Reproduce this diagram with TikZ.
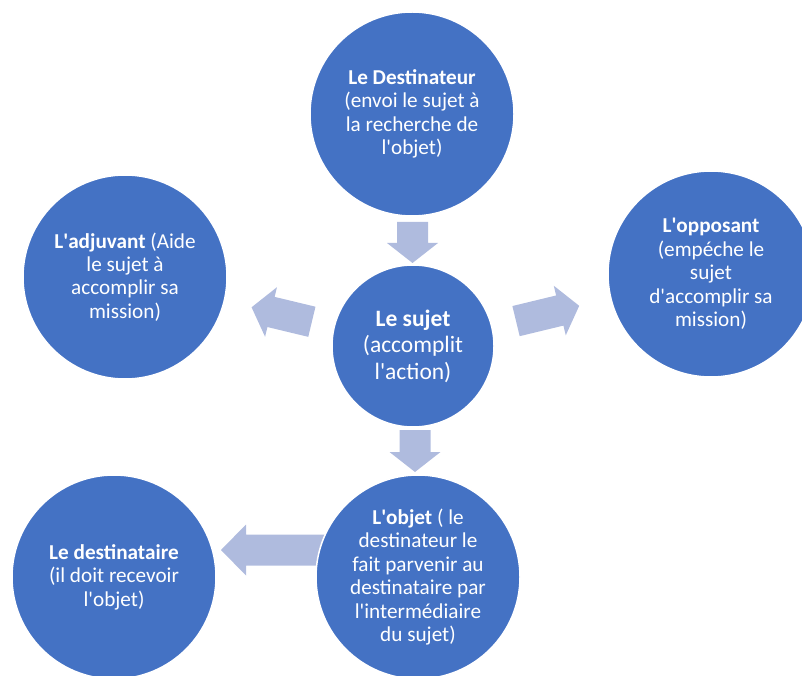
\documentclass[tikz,border=0pt]{standalone}
\usepackage{fontspec}
\setmainfont{Carlito}
\usetikzlibrary{calc,backgrounds}
\definecolor{circblue}{HTML}{4472C4}
\definecolor{arrblue}{HTML}{AFBBDE}
\newcommand\ap{\textquotesingle}
% block arrow: #1 tail point, #2 angle, #3 length, #4 head length
\newcommand\blockarr[4]{%
  \fill[arrblue, shift={#1}, rotate=#2]
    (0,-15.5) -- ({#3-#4},-15.5) -- ({#3-#4},-25.5) -- (#3,0)
    -- ({#3-#4},25.5) -- ({#3-#4},15.5) -- (0,15.5) -- cycle;}
\begin{document}
\begin{tikzpicture}[x=1pt,y=1pt,
  bubble/.style={circle, fill=circblue, draw=white, line width=1.5pt,
    inner sep=0pt},
  txt/.style={text=white, align=center, inner sep=0pt,
    font=\fontsize{21.2}{23.4}\selectfont},
  bigtxt/.style={txt, font=\fontsize{23.5}{26.6}\selectfont}]
\useasboundingbox (0,0) rectangle (802,675);
\node[bubble, minimum size=204pt] (dest) at (412,561) {};
\node[bubble, minimum size=204pt] (adj) at (125,398) {};
\node[bubble, minimum size=162pt] (suj) at (413,329) {};
\node[bubble, minimum size=206pt] (opp) at (711,401) {};
\node[bubble, minimum size=204pt] (obj) at (418,98) {};
\node[bubble, minimum size=204pt] (dst) at (114,98) {};
\node[txt] (destT) at (dest)
  {\textbf{Le Destinateur}\\(envoi le sujet à\\la recherche de\\l\ap objet)};
\node[txt] (adjT) at (adj)
  {\textbf{L\ap adjuvant} (Aide\\le sujet à\\accomplir sa\\mission)};
\node[bigtxt] (sujT) at (suj)
  {\textbf{Le sujet}\\(accomplit\\l\ap action)};
\node[txt] (oppT) at (opp)
  {\textbf{L\ap opposant}\\(empéche le\\sujet\\d\ap accomplir sa\\mission)};
\node[txt] (objT) at (obj)
  {\textbf{L\ap objet} ( le\\destinateur le\\fait parvenir au\\destinataire par\\l\ap intermédiaire\\du sujet)};
\node[txt] (dstT) at (dst)
  {\textbf{Le destinataire}\\(il doit recevoir\\l\ap objet)};
\begin{scope}[on background layer]
  \blockarr{($(suj)+(-0.5,124)$)}{-90}{41}{20}
  \blockarr{($(suj)!104pt!(adj)$)}{166.5}{62}{20}
  \blockarr{($(suj)!106pt!(opp)$)}{13.6}{65}{20}
  \blockarr{($(suj)+(2,-84)$)}{-90}{42}{20}
  \blockarr{($(obj)+(-83,27)$)}{180}{114}{25}
\end{scope}
\end{tikzpicture}
\end{document}
